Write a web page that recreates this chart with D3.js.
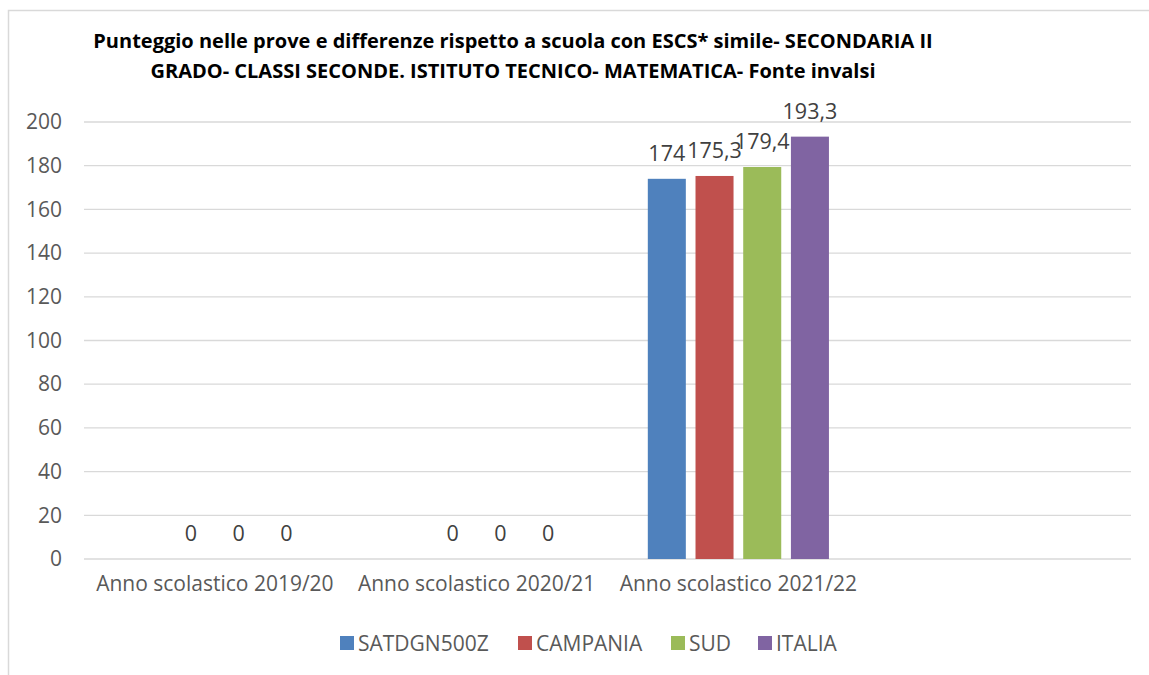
<!DOCTYPE html>
<html>
<head>
<meta charset="utf-8">
<script src="https://cdnjs.cloudflare.com/ajax/libs/d3/7.8.5/d3.min.js"></script>
<style>
  body { margin: 0; background: #fff; }
  svg { font-family: "Open Sans", sans-serif; }
</style>
</head>
<body>
<div id="chart"></div>
<script>
// data
const categories = ["Anno scolastico 2019/20", "Anno scolastico 2020/21", "Anno scolastico 2021/22", ""];
const seriesNames = ["SATDGN500Z", "CAMPANIA", "SUD", "ITALIA"];
const seriesColors = ["#4F81BD", "#C0504D", "#9BBB59", "#8064A2"];
const satdgn = [null, null, 174, null];
const campania = [0, 0, 175.3, null];
const sud = [0, 0, 179.4, null];
const italia = [0, 0, 193.3, null];
const yTicks = [0, 20, 40, 60, 80, 100, 120, 140, 160, 180, 200];
const titleLines = [
  "Punteggio nelle prove e differenze rispetto a scuola con ESCS* simile- SECONDARIA II",
  "GRADO- CLASSI SECONDE. ISTITUTO TECNICO- MATEMATICA- Fonte invalsi"
];

const allSeries = [satdgn, campania, sud, italia];

const W = 1149, H = 675;
const margin = {top: 122, right: 18, bottom: 116, left: 84};
const width = W - margin.left - margin.right,
      height = H - margin.top - margin.bottom;

const svg = d3.select("#chart").append("svg")
    .attr("width", W)
    .attr("height", H);

// outer chart border
svg.append("rect")
    .attr("x", 8.5).attr("y", 10.5)
    .attr("width", W + 10).attr("height", H + 10)
    .attr("fill", "none")
    .attr("stroke", "#D9D9D9")
    .attr("stroke-width", 1.5);

// title
svg.append("text")
    .attr("x", 513)
    .attr("y", 48)
    .attr("text-anchor", "middle")
    .style("font-weight", "bold")
    .style("font-size", "20px")
    .style("fill", "#000")
    .selectAll("tspan")
    .data(titleLines)
    .enter().append("tspan")
      .attr("x", 513)
      .attr("dy", (d, i) => i === 0 ? 0 : 30)
      .text(d => d);

const g = svg.append("g")
    .attr("transform", `translate(${margin.left},${margin.top})`);

// scales
const x0 = d3.scaleBand()
    .domain(categories.map((c, i) => i))
    .range([0, width])
    .padding(0);

const groupW = x0.bandwidth() * 0.692;
const x1 = d3.scaleBand()
    .domain(seriesNames)
    .range([(x0.bandwidth() - groupW) / 2, (x0.bandwidth() + groupW) / 2])
    .paddingInner(0.203)
    .paddingOuter(0);

const y = d3.scaleLinear()
    .domain([0, 200])
    .range([height, 0]);

// gridlines
g.append("g")
    .selectAll("line")
    .data(yTicks)
    .enter().append("line")
      .attr("x1", 0).attr("x2", width)
      .attr("y1", d => y(d)).attr("y2", d => y(d))
      .attr("stroke", "#D9D9D9")
      .attr("stroke-width", 1.3);

// y axis labels
const yAxis = g.append("g")
    .call(d3.axisLeft(y).tickValues(yTicks).tickSize(0).tickPadding(22));
yAxis.select(".domain").remove();
yAxis.selectAll("text")
    .style("font-size", "21px")
    .style("font-family", "Open Sans, sans-serif")
    .attr("fill", "#595959");

// x axis labels
const xAxis = g.append("g")
    .attr("transform", `translate(0,${height})`)
    .call(d3.axisBottom(x0).tickFormat(i => categories[i]).tickSize(0).tickPadding(17));
xAxis.select(".domain").remove();
xAxis.selectAll("text")
    .style("font-size", "21px")
    .style("font-family", "Open Sans, sans-serif")
    .attr("fill", "#595959");

// bars
const rows = [];
categories.forEach((c, ci) => {
  seriesNames.forEach((s, si) => {
    const v = allSeries[si][ci];
    if (v !== null) rows.push({ci: ci, s: s, si: si, v: v});
  });
});

g.selectAll("rect.bar")
    .data(rows)
    .enter().append("rect")
      .attr("class", "bar")
      .attr("x", d => x0(d.ci) + x1(d.s))
      .attr("y", d => y(d.v))
      .attr("width", x1.bandwidth())
      .attr("height", d => height - y(d.v))
      .attr("fill", d => seriesColors[d.si]);

// value labels
g.selectAll("text.value")
    .data(rows)
    .enter().append("text")
      .attr("class", "value")
      .attr("x", d => x0(d.ci) + x1(d.s) + x1.bandwidth() / 2)
      .attr("y", d => y(d.v) - 18)
      .attr("text-anchor", "middle")
      .style("font-size", "21.5px")
      .style("fill", "#404040")
      .text(d => String(d.v).replace(".", ","));

// legend
const legendX = [340, 518, 671, 758];
const legend = svg.append("g")
    .attr("transform", "translate(0,643)");
const li = legend.selectAll("g")
    .data(seriesNames)
    .enter().append("g")
      .attr("transform", (d, i) => `translate(${legendX[i]},0)`);
li.append("rect")
    .attr("x", 0).attr("y", -7)
    .attr("width", 14).attr("height", 14)
    .attr("fill", (d, i) => seriesColors[i]);
li.append("text")
    .attr("x", 18)
    .attr("y", 7.5)
    .style("font-size", "21px")
    .style("fill", "#595959")
    .text(d => d);
</script>
</body>
</html>
